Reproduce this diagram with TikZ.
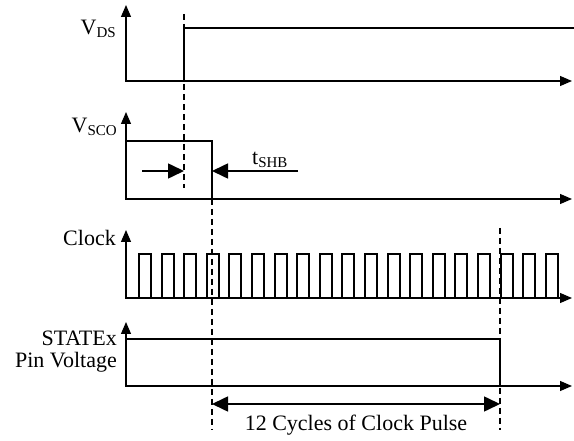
\documentclass[tikz,border=0pt]{standalone}
\usepackage{fontspec}
\setmainfont{Liberation Serif}
\usetikzlibrary{arrows.meta}
\newcommand{\subtxt}[1]{\raisebox{-0.25ex}{\fontsize{15}{15}\selectfont #1}}

\begin{document}
\begin{tikzpicture}[x=1pt,y=-1pt,
  axis/.style={line width=1.2pt,{Triangle[length=12pt,width=10pt]}-{Triangle[length=12pt,width=10pt]}},
  sig/.style={line width=2pt},
  guide/.style={line width=1.3pt,dash pattern=on 6pt off 4pt},
  dim/.style={line width=1.6pt,-{Triangle[length=16pt,width=15pt]}},
  lbl/.style={font=\fontsize{22}{24}\selectfont,inner sep=0pt}]
\useasboundingbox (0,0) rectangle (574,441);
% V_DS
\draw[axis] (126,5) -- (126,81) -- (572,81);
\draw[sig] (126,81) -- (184,81) -- (184,28) -- (574,28);
\node[lbl,anchor=base east] (vds) at (116,35) {V\subtxt{DS}};
% V_SCO
\draw[axis] (126,112) -- (126,199) -- (572,199);
\draw[sig] (126,141) -- (212,141) -- (212,199) -- (560,199);
\node[lbl,anchor=base east] (vsco) at (117,133) {V\subtxt{SCO}};
\draw[dim] (142,171) -- (184,171);
\draw[dim] (298,171) -- (212,171);
\node[lbl,anchor=base west] (tshb) at (252,165) {t\subtxt{SHB}};
% Clock
\draw[axis] (126,230) -- (126,298) -- (572,298);
\draw[sig] (126,298) \foreach \k in {0,...,18} {
  -- ({139+22.6*\k},298) -- ++(0,-44) -- ++(12,0) -- ++(0,44) } -- (560,298);
\node[lbl,anchor=base east] (clk) at (116,246) {Clock};
% STATEx
\draw[axis] (126,322) -- (126,386) -- (572,386);
\draw[sig] (126,339) -- (500,339) -- (500,386) -- (560,386);
\node[lbl,anchor=base east] (statex) at (117,345) {STATEx};
\node[lbl,anchor=base east] (pinv) at (117,367) {Pin Voltage};
% guides
\draw[guide] (184,14) -- (184,188);
\draw[guide] (212,199) -- (212,430);
\draw[guide] (500,228) -- (500,430);
\draw[dim,{Triangle[length=16pt,width=15pt]}-{Triangle[length=16pt,width=15pt]}] (212,404) -- (500,404);
\node[lbl,anchor=base] (cycles) at (356,431) {12 Cycles of Clock Pulse};
\end{tikzpicture}
\end{document}
